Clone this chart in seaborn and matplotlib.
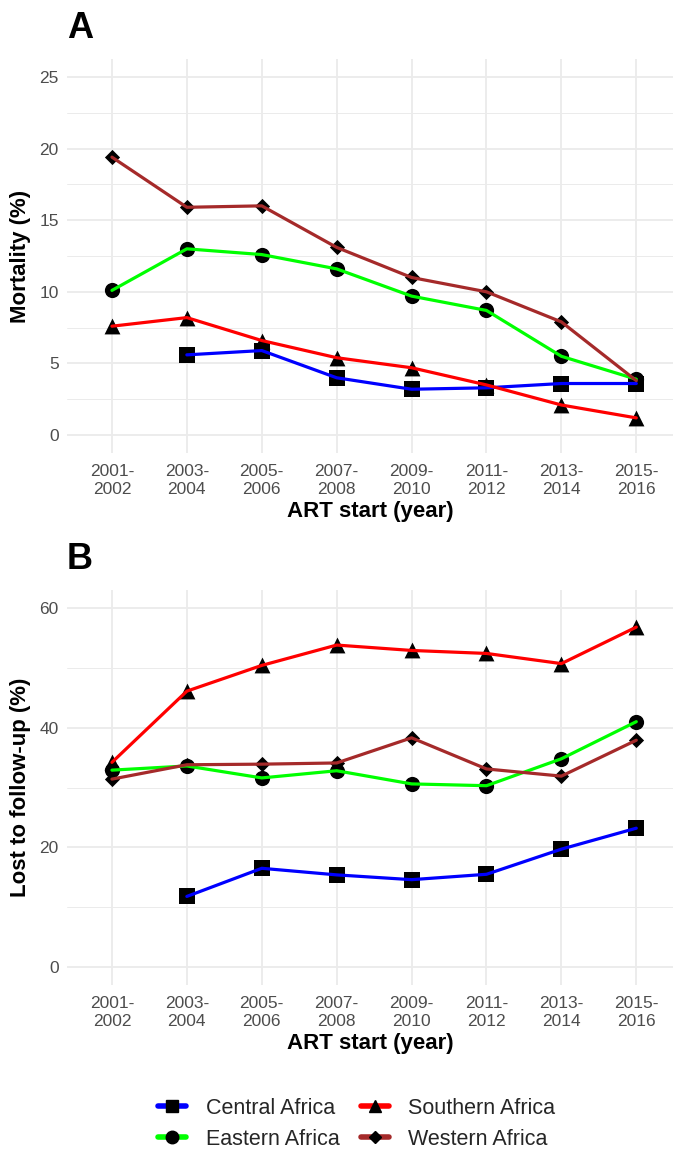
import numpy as np
import pandas as pd
import matplotlib
matplotlib.use("Agg")
import matplotlib.pyplot as plt
from matplotlib.lines import Line2D
from matplotlib.ticker import MultipleLocator
import seaborn as sns

periods = ["2001-\n2002", "2003-\n2004", "2005-\n2006", "2007-\n2008",
           "2009-\n2010", "2011-\n2012", "2013-\n2014", "2015-\n2016"]
regions = ["Central Africa", "Eastern Africa", "Southern Africa", "Western Africa"]

# Mortality (%)
mort_central = [np.nan, 5.6, 5.9, 4.0, 3.2, 3.3, 3.6, 3.6]
mort_eastern = [10.1, 13.0, 12.6, 11.6, 9.7, 8.7, 5.5, 3.9]
mort_southern = [7.6, 8.2, 6.6, 5.4, 4.7, 3.5, 2.1, 1.2]
mort_western = [19.4, 15.9, 16.0, 13.1, 11.0, 10.0, 7.9, 3.8]

# Lost to follow-up (%)
ltfu_central = [np.nan, 11.8, 16.5, 15.4, 14.6, 15.5, 19.7, 23.2]
ltfu_eastern = [32.9, 33.6, 31.6, 32.8, 30.6, 30.3, 34.8, 41.0]
ltfu_southern = [34.2, 46.1, 50.4, 53.8, 52.9, 52.4, 50.7, 56.8]
ltfu_western = [31.4, 33.8, 33.9, 34.1, 38.3, 33.1, 31.9, 37.9]

colors = {"Central Africa": "#0000FF", "Eastern Africa": "#00FF00",
          "Southern Africa": "#FF0000", "Western Africa": "#A52A2A"}
markers = {"Central Africa": "s", "Eastern Africa": "o",
           "Southern Africa": "^", "Western Africa": "D"}
sizes = {"Central Africa": 120, "Eastern Africa": 120,
         "Southern Africa": 130, "Western Africa": 60}


def long_df(series):
    rows = []
    for reg, vals in zip(regions, series):
        for p, v in zip(periods, vals):
            rows.append({"period": p, "region": reg, "value": v})
    df = pd.DataFrame(rows)
    df["period"] = pd.Categorical(df["period"], categories=periods, ordered=True)
    return df


df_mort = long_df([mort_central, mort_eastern, mort_southern, mort_western])
df_ltfu = long_df([ltfu_central, ltfu_eastern, ltfu_southern, ltfu_western])

sns.set_theme(style="white")
plt.rcParams["font.family"] = ["Liberation Sans", "DejaVu Sans"]

fig = plt.figure(figsize=(6.73, 11.52), dpi=100)
W, H = 673, 1152


def panel(bottom_px, top_px, df, ymax, major, minor, ylabel, letter):
    ax = fig.add_axes([67 / W, 1 - bottom_px / H, (673 - 67) / W, (bottom_px - top_px) / H])
    d = df.dropna()
    for reg in regions:
        sub = d[d["region"] == reg]
        sns.scatterplot(data=sub, x="period", y="value", marker=markers[reg],
                        color="black", s=sizes[reg], linewidth=0,
                        legend=False, ax=ax, zorder=3)
    sns.lineplot(data=d, x="period", y="value", hue="region", hue_order=regions,
                 palette=colors, linewidth=2.3, legend=False, ax=ax, zorder=4)
    ax.set_xlim(-0.6, 7.49)
    pad = ymax * 0.05
    ax.set_ylim(-pad, ymax + pad)
    ax.yaxis.set_major_locator(MultipleLocator(major))
    ax.yaxis.set_minor_locator(MultipleLocator(minor))
    ax.grid(True, which="major", color="#ebebeb", linewidth=1.3)
    ax.grid(True, which="minor", axis="y", color="#ebebeb", linewidth=0.7)
    ax.set_axisbelow(True)
    for s in ax.spines.values():
        s.set_visible(False)
    ax.tick_params(axis="both", which="both", length=0, labelsize=12.5,
                   labelcolor="#4d4d4d")
    ax.tick_params(axis="x", pad=8)
    ax.tick_params(axis="y", pad=6)
    ax.set_xlabel("ART start (year)", fontsize=16, fontweight="bold", labelpad=3,
                  color="black")
    ax.set_ylabel(ylabel, fontsize=16, fontweight="bold", labelpad=6, color="black")
    fig.text(67 / W, 1 - (top_px - 48) / H, letter, fontsize=26, fontweight="bold",
             ha="left", va="top", color="black")
    return ax


panel(453, 59, df_mort, 25, 5, 2.5, "Mortality (%)", "A")
panel(985, 590, df_ltfu, 60, 20, 10, "Lost to follow-up (%)", "B")

handles = [Line2D([0], [0], color=colors[r], linewidth=4, marker=markers[r],
                  markerfacecolor="black", markeredgecolor="black",
                  markersize=9 if r != "Western Africa" else 6)
           for r in regions]
fig.legend(handles, regions, loc="center", bbox_to_anchor=(0.53, 0.0245), ncol=2,
           frameon=False, fontsize=15.5, handlelength=1.3, columnspacing=1.0,
           handletextpad=0.9, labelspacing=0.45)

fig.savefig("out.png", dpi=100, facecolor="white")
